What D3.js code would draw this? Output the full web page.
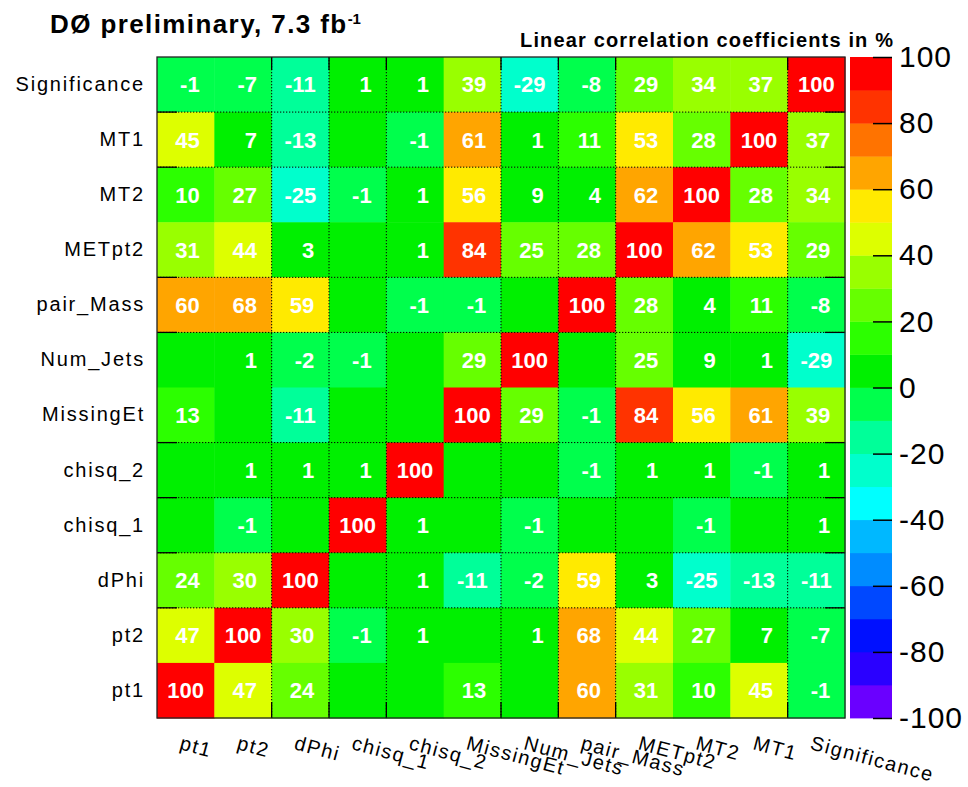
<!DOCTYPE html>
<html><head><meta charset="utf-8">
<script src="https://cdn.jsdelivr.net/npm/d3@7"></script>
<style>
body{margin:0;background:#fff;}
text{font-family:"Liberation Sans",Arial,Helvetica,sans-serif;}
</style></head><body>
<svg id="chart" width="968" height="787"></svg>
<script>
// ---------- data ----------
const rowLabels = ["Significance","MT1","MT2","METpt2","pair_Mass","Num_Jets","MissingEt","chisq_2","chisq_1","dPhi","pt2","pt1"];
const colLabels = ["pt1","pt2","dPhi","chisq_1","chisq_2","MissingEt","Num_Jets","pair_Mass","METpt2","MT2","MT1","Significance"];

const rowSignificance = [-1, -7, -11, 1, 1, 39, -29, -8, 29, 34, 37, 100];
const rowMT1          = [45, 7, -13, 0, -1, 61, 1, 11, 53, 28, 100, 37];
const rowMT2          = [10, 27, -25, -1, 1, 56, 9, 4, 62, 100, 28, 34];
const rowMETpt2       = [31, 44, 3, 0, 1, 84, 25, 28, 100, 62, 53, 29];
const rowPairMass     = [60, 68, 59, 0, -1, -1, 0, 100, 28, 4, 11, -8];
const rowNumJets      = [0, 1, -2, -1, 0, 29, 100, 0, 25, 9, 1, -29];
const rowMissingEt    = [13, 0, -11, 0, 0, 100, 29, -1, 84, 56, 61, 39];
const rowChisq2       = [0, 1, 1, 1, 100, 0, 0, -1, 1, 1, -1, 1];
const rowChisq1       = [0, -1, 0, 100, 1, 0, -1, 0, 0, -1, 0, 1];
const rowDPhi         = [24, 30, 100, 0, 1, -11, -2, 59, 3, -25, -13, -11];
const rowPt2          = [47, 100, 30, -1, 1, 0, 1, 68, 44, 27, 7, -7];
const rowPt1          = [100, 47, 24, 0, 0, 13, 0, 60, 31, 10, 45, -1];

const colorTicks = [-100, -80, -60, -40, -20, 0, 20, 40, 60, 80, 100];
const paletteColors = ["#6a00ff","#2a00ff","#0010ff","#0048ff","#008cff","#00b8ff","#00ffff","#00ffcc","#00ff99","#00ff4c",
                       "#00f000","#2cff00","#66ff00","#99ff00","#ddff00","#ffea00","#ffa500","#ff7300","#ff3300","#ff0000"];
// bin edges (counted from left / from top) where axis ticks + dotted grid are drawn
const xTickEdges = [2, 3, 4, 6, 7, 8, 11];
const yTickEdges = [1, 2, 4, 5, 7, 8, 9, 10];

const matrix = [rowSignificance,rowMT1,rowMT2,rowMETpt2,rowPairMass,rowNumJets,rowMissingEt,rowChisq2,rowChisq1,rowDPhi,rowPt2,rowPt1];

// ---------- layout ----------
const svg = d3.select("#chart");
const X0 = 157, X1 = 845, Y0 = 57, Y1 = 718;

const x = d3.scaleBand().domain(colLabels).range([X0, X1]).padding(0);
const y = d3.scaleBand().domain(rowLabels).range([Y0, Y1]).padding(0);
const color = d3.scaleQuantize().domain([-100, 100]).range(paletteColors);

const cells = [];
matrix.forEach((row, i) => row.forEach((v, j) => cells.push({r: rowLabels[i], c: colLabels[j], v})));

// cells
svg.append("g").selectAll("rect").data(cells).join("rect")
  .attr("x", d => x(d.c)).attr("y", d => y(d.r))
  .attr("width", x.bandwidth() + 0.5).attr("height", y.bandwidth() + 0.5)
  .attr("fill", d => color(d.v));

// grid (dotted) + ticks
const g = svg.append("g");
xTickEdges.forEach(k => {
  const xx = X0 + k * x.bandwidth();
  g.append("line").attr("x1", xx).attr("x2", xx).attr("y1", Y0).attr("y2", Y1)
    .attr("stroke", "#000").attr("stroke-width", 1).attr("stroke-dasharray", "1.3,1.7");
  g.append("line").attr("x1", xx).attr("x2", xx).attr("y1", Y0).attr("y2", Y0 + 13)
    .attr("stroke", "#000").attr("stroke-width", 1.3);
  g.append("line").attr("x1", xx).attr("x2", xx).attr("y1", Y1 - 16).attr("y2", Y1)
    .attr("stroke", "#000").attr("stroke-width", 1.3);
});
yTickEdges.forEach(k => {
  const yy = Y0 + k * y.bandwidth();
  g.append("line").attr("x1", X0).attr("x2", X1).attr("y1", yy).attr("y2", yy)
    .attr("stroke", "#000").attr("stroke-width", 1).attr("stroke-dasharray", "1.3,1.7");
  g.append("line").attr("x1", X0).attr("x2", X0 + 20).attr("y1", yy).attr("y2", yy)
    .attr("stroke", "#000").attr("stroke-width", 1.3);
  g.append("line").attr("x1", X1 - 20).attr("x2", X1).attr("y1", yy).attr("y2", yy)
    .attr("stroke", "#000").attr("stroke-width", 1.3);
});

// cell values
svg.append("g").selectAll("text").data(cells.filter(d => d.v !== 0)).join("text")
  .attr("fill", "#fff").attr("font-size", 22).attr("font-weight", "bold")
  .attr("y", d => y(d.r) + y.bandwidth() / 2).attr("dy", "0.36em")
  .text(d => String(d.v))
  .each(function(d) {
    const w = this.getComputedTextLength();
    const cx = x(d.c) + x.bandwidth() / 2;
    d3.select(this).attr("x", Math.max(cx + 14 - w, cx - w / 2));
  });

// frame
svg.append("rect").attr("x", X0).attr("y", Y0).attr("width", X1 - X0).attr("height", Y1 - Y0)
  .attr("fill", "none").attr("stroke", "#222").attr("stroke-width", 1.3);

// row labels
const ay = svg.append("g").attr("transform", `translate(${X0},0)`)
  .call(d3.axisLeft(y).tickSize(0).tickPadding(12));
ay.select(".domain").remove();
ay.selectAll("text").attr("font-size", 20).attr("fill", "#000")
  .style("letter-spacing", "1.8px").attr("font-family", "Liberation Sans, Arial, sans-serif");

// column labels (rotated)
const ax = svg.append("g").attr("transform", `translate(0,${Y1})`)
  .call(d3.axisBottom(x).tickSize(0));
ax.select(".domain").remove();
ax.selectAll("text").attr("font-size", 20).attr("fill", "#000")
  .style("letter-spacing", "1.6px").attr("font-family", "Liberation Sans, Arial, sans-serif")
  .attr("x", 0).attr("y", 0).attr("dy", 0)
  .attr("text-anchor", "start")
  .attr("transform", "translate(-7,31) rotate(15)");

// colour bar
const CB0 = 850, CB1 = 892;
const cy = d3.scaleLinear().domain([-100, 100]).range([Y1, Y0]);
svg.append("g").selectAll("rect").data(paletteColors).join("rect")
  .attr("x", CB0).attr("width", CB1 - CB0)
  .attr("y", c => cy(color.invertExtent(c)[1]))
  .attr("height", c => cy(color.invertExtent(c)[0]) - cy(color.invertExtent(c)[1]) + 0.4)
  .attr("fill", c => c);
const ac = svg.append("g").attr("transform", `translate(${CB1},0)`)
  .call(d3.axisRight(cy).tickValues(colorTicks).tickSize(-19).tickPadding(7).tickFormat(d => String(d)));
ac.select(".domain").remove();
ac.selectAll("line").attr("stroke", "#000").attr("stroke-width", 1.5);
ac.selectAll("text").attr("font-size", 30).attr("fill", "#000")
  .style("letter-spacing", "1px").attr("font-family", "Liberation Sans, Arial, sans-serif");

// titles
const t = svg.append("text").attr("x", 50).attr("y", 33)
  .attr("font-size", 26).attr("font-weight", "bold").attr("fill", "#000");
t.append("tspan").text("DØ preliminary, 7.3 fb").style("letter-spacing", "1.4px");
t.append("tspan").attr("font-size", 15).attr("dy", -9).text("-1");

svg.append("text").attr("x", 520).attr("y", 47)
  .attr("font-size", 20).attr("font-weight", "bold").attr("fill", "#000")
  .attr("textLength", 373).attr("lengthAdjust", "spacing")
  .text("Linear correlation coefficients in %");
</script>
</body></html>
